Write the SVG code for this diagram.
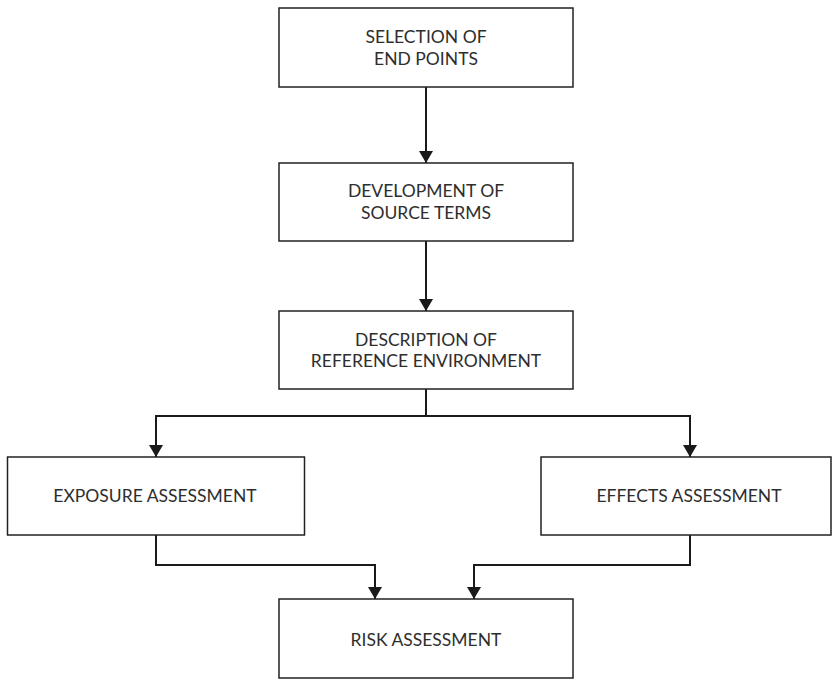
<svg xmlns="http://www.w3.org/2000/svg" width="832" height="680" viewBox="0 0 832 680">
<defs>
<style>
.box{fill:#fff;stroke:#222;stroke-width:1.5}
.lbl{font-family:Lato,"Open Sans","Liberation Sans",sans-serif;font-size:17.5px;fill:#2e2e2e;text-anchor:middle}
.con{fill:none;stroke:#1a1a1a;stroke-width:2}
</style>
<marker id="arr" viewBox="0 0 12 14" refX="12" refY="7" markerWidth="12" markerHeight="14" markerUnits="userSpaceOnUse" orient="auto">
<path d="M0,0 L12,7 L0,14 Z" fill="#1a1a1a"/>
</marker>
</defs>
<rect width="832" height="680" fill="#fff"/>
<g id="connectors">
<path class="con" d="M426,87 V163" marker-end="url(#arr)"/>
<path class="con" d="M426,241 V311" marker-end="url(#arr)"/>
<path class="con" d="M426,389 V416 H156 V457" marker-end="url(#arr)"/>
<path class="con" d="M426,416 H690 V457" marker-end="url(#arr)"/>
<path class="con" d="M156,535 V565 H375 V599" marker-end="url(#arr)"/>
<path class="con" d="M690,535 V565 H474 V599" marker-end="url(#arr)"/>
</g>
<g id="n1"><rect class="box" x="279" y="8" width="294" height="79"/>
<text class="lbl" x="426" y="43">SELECTION OF</text><text class="lbl" x="426" y="65">END POINTS</text></g>
<g id="n2"><rect class="box" x="279" y="163" width="294" height="78"/>
<text class="lbl" x="426" y="197">DEVELOPMENT OF</text><text class="lbl" x="426" y="219">SOURCE TERMS</text></g>
<g id="n3"><rect class="box" x="279" y="311" width="294" height="78"/>
<text class="lbl" x="426" y="346">DESCRIPTION OF</text><text class="lbl" x="426" y="367">REFERENCE ENVIRONMENT</text></g>
<g id="n4"><rect class="box" x="7.5" y="457" width="297" height="78"/>
<text class="lbl" x="155" y="502">EXPOSURE ASSESSMENT</text></g>
<g id="n5"><rect class="box" x="541" y="457" width="290" height="78"/>
<text class="lbl" x="689" y="502">EFFECTS ASSESSMENT</text></g>
<g id="n6"><rect class="box" x="279" y="599" width="294" height="79"/>
<text class="lbl" x="426" y="646">RISK ASSESSMENT</text></g>
</svg>
